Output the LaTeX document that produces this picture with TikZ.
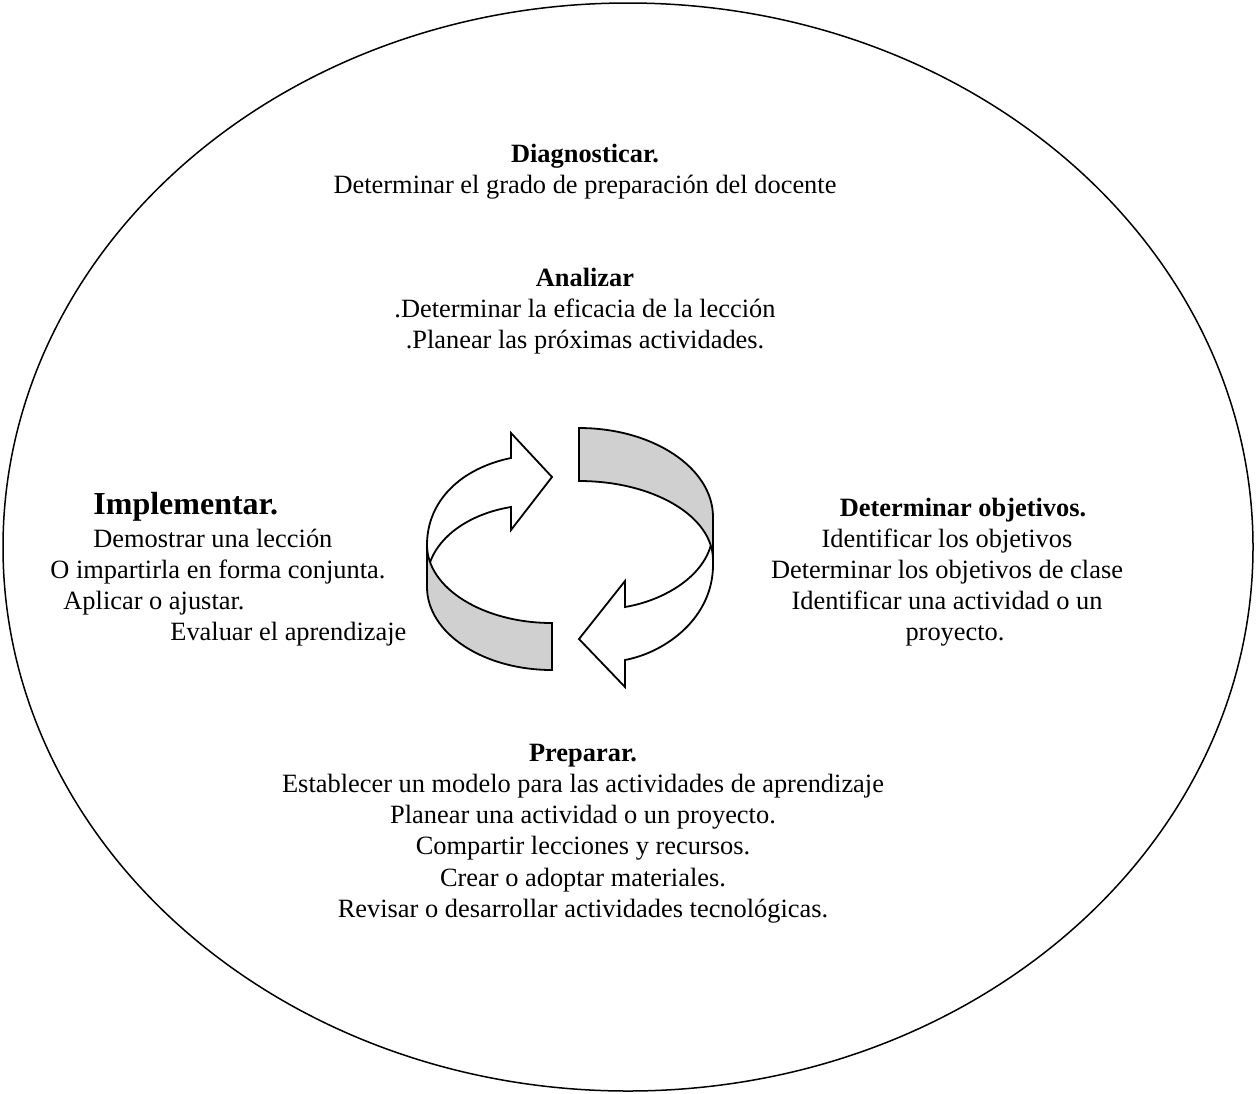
\documentclass[tikz,border=0pt]{standalone}
\usepackage{fontspec}
\setmainfont{Liberation Serif}
\usetikzlibrary{positioning}
\definecolor{bandgray}{RGB}{208,208,208}

\begin{document}
\begin{tikzpicture}[x=0.5pt,y=-0.5pt,
  txt/.style={font=\fontsize{13.2}{15.5}\selectfont,inner sep=0pt},
  hdr/.style={font=\fontsize{13.2}{15.5}\selectfont\bfseries,inner sep=0pt},
  bighdr/.style={font=\fontsize{16}{19}\selectfont\bfseries,inner sep=0pt},
  ring/.style={draw=black,line width=0.9pt,line join=miter}]
\useasboundingbox (0,0) rectangle (1258,1093);
\draw[line width=0.75pt] (628,547) ellipse [x radius=625, y radius=544];

\draw[ring,fill=white] (625,660) .. controls (667,652) and (713,617) .. (713,565) -- (713,520) -- (713,530) .. controls (713,572) and (667,600) .. (625,607) -- (625,581) -- (579,639) -- (625,687) -- cycle;
\draw[ring,fill=white] (511,458) .. controls (462,468) and (427,500) .. (427,545) -- (427,580) .. controls (427,545) and (462,515) .. (511,507) -- (511,530) -- (552,477) -- (511,433) -- cycle;
\draw[ring,fill=bandgray] (579,428) .. controls (653,428) and (713,468) .. (713,517) -- (713,560) .. controls (713,516) and (653,481) .. (579,481) -- cycle;
\draw[ring,fill=bandgray] (427,545) -- (427,587) .. controls (427,633) and (483,670) .. (552,670) -- (552,623) .. controls (483,623) and (427,588) .. (427,545) -- cycle;

\node[hdr,anchor=base] (diag) at (585,162) {Diagnosticar.};
\node[txt,anchor=base] (diag1) at (585,193) {Determinar el grado de preparación del docente};
\node[hdr,anchor=base] (anal) at (585,286) {Analizar};
\node[txt,anchor=base] (anal1) at (585,317) {.Determinar la eficacia de la lección};
\node[txt,anchor=base] (anal2) at (585,348) {.Planear las próximas actividades.};

\node[bighdr,anchor=base west] (impl) at (93,514) {Implementar.};
\node[txt,anchor=base west] (impl1) at (93,547) {Demostrar una lección};
\node[txt,anchor=base west] (impl2) at (50,578) {O impartirla en forma conjunta.};
\node[txt,anchor=base west] (impl3) at (63,609) {Aplicar o ajustar.};
\node[txt,anchor=base west] (impl4) at (170,640) {Evaluar el aprendizaje};

\node[hdr,anchor=base] (obj) at (963,516) {Determinar objetivos.};
\node[txt,anchor=base] (obj1) at (947,547) {Identificar los objetivos};
\node[txt,anchor=base] (obj2) at (947,578) {Determinar los objetivos de clase};
\node[txt,anchor=base] (obj3) at (947,609) {Identificar una actividad o un};
\node[txt,anchor=base] (obj4) at (955,640) {proyecto.};

\node[hdr,anchor=base] (prep) at (583,761) {Preparar.};
\node[txt,anchor=base] (prep1) at (583,792) {Establecer un modelo para las actividades de aprendizaje};
\node[txt,anchor=base] (prep2) at (583,823) {Planear una actividad o un proyecto.};
\node[txt,anchor=base] (prep3) at (583,854) {Compartir lecciones y recursos.};
\node[txt,anchor=base] (prep4) at (583,886) {Crear o adoptar materiales.};
\node[txt,anchor=base] (prep5) at (583,917) {Revisar o desarrollar actividades tecnológicas.};

\end{tikzpicture}
\end{document}
